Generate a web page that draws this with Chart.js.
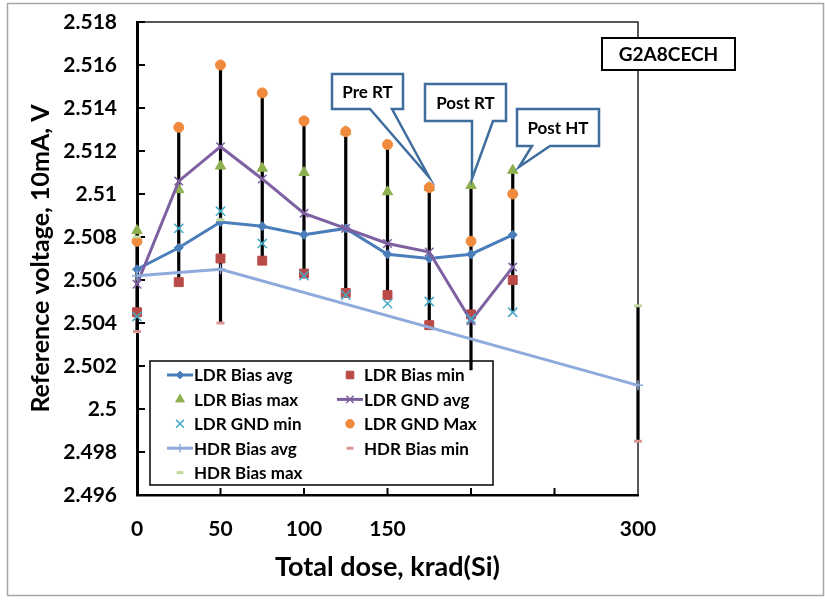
<!DOCTYPE html>
<html>
<head>
<meta charset="utf-8">
<script src="https://cdn.jsdelivr.net/npm/chart.js@4.4.0/dist/chart.umd.min.js"></script>
<style>
  html, body { margin: 0; padding: 0; background: #fff; }
</style>
</head>
<body>
<canvas id="grafico" width="825" height="602"></canvas>
<script>
// ================= DADOS =================
const doseLDR = [0, 25, 50, 75, 100, 125, 150, 175, 200, 225];
const doseHDR = [0, 50, 300];

const ldrBiasAvg = [2.5065, 2.5075, 2.5087, 2.5085, 2.5081, 2.5084, 2.5072, 2.5070, 2.5072, 2.5081];
const ldrBiasMin = [2.5045, 2.5059, 2.5070, 2.5069, 2.5063, 2.5054, 2.5053, 2.5039, 2.5044, 2.5060];
const ldrBiasMax = [2.5083, 2.5102, 2.5113, 2.5112, 2.5110, 2.5129, 2.5101, 2.5103, 2.5104, 2.5111];
const ldrGndMin  = [2.5043, 2.5084, 2.5092, 2.5077, 2.5062, 2.5053, 2.5049, 2.5050, 2.5042, 2.5045];
const ldrGndAvg  = [2.5058, 2.5106, 2.5122, 2.5107, 2.5091, 2.5084, 2.5077, 2.5073, 2.5041, 2.5066];
const ldrGndMax  = [2.5078, 2.5131, 2.5160, 2.5147, 2.5134, 2.5129, 2.5123, 2.5103, 2.5078, 2.5100];
const hdrBiasAvg = [2.5062, 2.5065, 2.5011];
const hdrBiasMin = [2.5036, 2.5040, 2.4985];
const hdrBiasMax = [2.5080, 2.5088, 2.5048];

// barras pretas (faixa total em cada dose)
const faixaDose = [0, 25, 50, 75, 100, 125, 150, 175, 200, 225, 300];
const faixaMin  = [2.5036, 2.5059, 2.5040, 2.5069, 2.5063, 2.5054, 2.5051, 2.5039, 2.5018, 2.5045, 2.4985];
const faixaMax  = [2.5083, 2.5131, 2.5160, 2.5147, 2.5134, 2.5129, 2.5123, 2.5103, 2.5104, 2.5111, 2.5048];

const ticksX = [0, 50, 100, 150, 300];   // rótulos visíveis no eixo X
const rotuloAmostra = "G2A8CECH";

// ================= ESTILO =================
const FONTE = "Lato, 'Open Sans', sans-serif";
Chart.defaults.font.family = FONTE;
Chart.defaults.font.weight = "bold";
Chart.defaults.color = "#000";

function pontos(xs, ys) {
  return xs.map((x, i) => ({ x: x, y: ys[i] }));
}

function serie(label, xs, ys, cor, estilo, raio, linha, extra) {
  return Object.assign({
    label: label,
    data: pontos(xs, ys),
    showLine: linha,
    borderColor: cor,
    borderWidth: linha ? 3 : 0,
    pointStyle: estilo,
    pointRadius: raio,
    pointHoverRadius: raio,
    pointBackgroundColor: cor,
    pointBorderColor: cor,
    pointBorderWidth: 1,
    clip: false
  }, extra || {});
}

const datasets = [
  serie("LDR Bias avg", doseLDR, ldrBiasAvg, "#4A7EBB", "rectRot", 4.5, true),
  serie("LDR Bias min", doseLDR, ldrBiasMin, "#B94A47", "rect", 6.3, false),
  serie("LDR Bias max", doseLDR, ldrBiasMax, "#8FB04E", "triangle", 6, false),
  serie("LDR GND avg", doseLDR, ldrGndAvg, "#7D60A0", "crossRot", 6, true, { pointBorderWidth: 1.5 }),
  serie("LDR GND min", doseLDR, ldrGndMin, "#46AAC5", "crossRot", 6.5, false, { pointBorderWidth: 1.5 }),
  serie("LDR GND Max", doseLDR, ldrGndMax, "#F08A3C", "circle", 5, false),
  serie("HDR Bias avg", doseHDR, hdrBiasAvg, "#8FAADC", "cross", 5, true, { pointBorderWidth: 1.5 }),
  serie("HDR Bias min", doseHDR, hdrBiasMin, "#D99694", "line", 4, false, { pointBorderWidth: 3 }),
  serie("HDR Bias max", doseHDR, hdrBiasMax, "#C3D69B", "line", 4, false, { pointBorderWidth: 3 })
];
// no Excel a última série fica por cima
datasets.forEach((d, i) => { d.order = datasets.length - i; });

// ================= PLUGINS =================
const moldura = {
  id: "moldura",
  beforeDatasetsDraw(chart) {
    const { ctx, chartArea: a, scales } = chart;
    ctx.save();

    // legenda (fica por baixo das barras pretas, como no original)
    const lx = 150, ly = 361, lw = 343, lh = 124;
    ctx.fillStyle = "#fff";
    ctx.fillRect(lx, ly, lw, lh);
    ctx.strokeStyle = "#000";
    ctx.lineWidth = 1.5;
    ctx.strokeRect(lx, ly, lw, lh);
    ctx.font = "bold 17px " + FONTE;
    ctx.textBaseline = "middle";
    ctx.textAlign = "left";
    datasets.forEach((d, i) => {
      const col = i % 2, lin = Math.floor(i / 2);
      const mx = col === 0 ? 180 : 350;
      const my = 375 + lin * 24.4;
      if (d.showLine) {
        ctx.strokeStyle = d.borderColor;
        ctx.lineWidth = 3;
        ctx.beginPath();
        ctx.moveTo(mx - 13, my);
        ctx.lineTo(mx + 13, my);
        ctx.stroke();
      }
      ctx.fillStyle = d.pointBackgroundColor;
      ctx.strokeStyle = d.pointBorderColor;
      ctx.lineWidth = d.pointBorderWidth;
      Chart.helpers.drawPoint(ctx, {
        pointStyle: d.pointStyle,
        radius: d.pointRadius * 0.85,
        rotation: 0,
        borderWidth: d.pointBorderWidth
      }, mx, my);
      ctx.fillStyle = "#000";
      ctx.fillText(d.label, mx + 14, my + 1);
    });

    // caixa do gráfico (topo e direita)
    ctx.strokeStyle = "#222";
    ctx.lineWidth = 1.5;
    ctx.beginPath();
    ctx.moveTo(a.left, a.top);
    ctx.lineTo(a.right, a.top);
    ctx.lineTo(a.right, a.bottom);
    ctx.stroke();

    // marcas internas
    ctx.strokeStyle = "#000";
    ctx.lineWidth = 2;
    ctx.beginPath();
    scales.y.ticks.forEach(t => {
      const y = scales.y.getPixelForValue(t.value);
      ctx.moveTo(a.left, y);
      ctx.lineTo(a.left + 8, y);
    });
    scales.x.ticks.forEach(t => {
      if (t.value <= 0 || t.value >= 300) return;
      const x = scales.x.getPixelForValue(t.value);
      ctx.moveTo(x, a.bottom);
      ctx.lineTo(x, a.bottom - 7);
    });
    ctx.stroke();

    // barras pretas
    ctx.lineWidth = 3.2;
    ctx.beginPath();
    faixaDose.forEach((d, i) => {
      const x = scales.x.getPixelForValue(d);
      ctx.moveTo(x, scales.y.getPixelForValue(faixaMax[i]));
      ctx.lineTo(x, scales.y.getPixelForValue(faixaMin[i]));
    });
    ctx.stroke();
    ctx.restore();
  },
  afterDraw(chart) {
    const { ctx } = chart;
    ctx.save();

    // balões
    const baloes = [
      { txt: "Pre RT",  x: 332, y: 74,  w: 71, h: 35, b1: 370, b2: 392, tx: 429, ty: 177 },
      { txt: "Post RT", x: 425, y: 84,  w: 81, h: 37, b1: 472, b2: 493, tx: 472, ty: 179 },
      { txt: "Post HT", x: 517, y: 109, w: 82, h: 37, b1: 532, b2: 550, tx: 519, ty: 167 }
    ];
    ctx.font = "bold 17px " + FONTE;
    ctx.textAlign = "center";
    ctx.textBaseline = "middle";
    baloes.forEach(b => {
      const base = b.y + b.h;
      ctx.beginPath();
      ctx.moveTo(b.x, b.y);
      ctx.lineTo(b.x + b.w, b.y);
      ctx.lineTo(b.x + b.w, base);
      ctx.lineTo(b.b2, base);
      ctx.lineTo(b.tx, b.ty);
      ctx.lineTo(b.b1, base);
      ctx.lineTo(b.x, base);
      ctx.closePath();
      ctx.fillStyle = "#fff";
      ctx.fill();
      ctx.strokeStyle = "#3F6E9E";
      ctx.lineWidth = 2.5;
      ctx.lineJoin = "miter";
      ctx.stroke();
      ctx.fillStyle = "#000";
      ctx.fillText(b.txt, b.x + b.w / 2, b.y + b.h / 2 + 1);
    });

    // identificação da amostra
    ctx.fillStyle = "#fff";
    ctx.fillRect(602, 38, 133, 32);
    ctx.strokeStyle = "#000";
    ctx.lineWidth = 2;
    ctx.strokeRect(602, 38, 133, 32);
    ctx.fillStyle = "#000";
    ctx.font = "bold 19px " + FONTE;
    ctx.fillText(rotuloAmostra, 668.5, 55);

    // borda externa
    ctx.strokeStyle = "#A6A6A6";
    ctx.lineWidth = 1.5;
    ctx.strokeRect(7.5, 3.5, 816, 592);
    ctx.restore();
  }
};

// ================= GRÁFICO =================
const ctx = document.getElementById("grafico").getContext("2d");
window.grafico = new Chart(ctx, {
  type: "scatter",
  data: { datasets },
  options: {
    responsive: false,
    animation: false,
    events: [],
    layout: { padding: { top: 22, right: 187, bottom: 0, left: 0 } },
    plugins: {
      legend: { display: false },
      tooltip: { enabled: false }
    },
    scales: {
      x: {
        type: "linear",
        min: 0,
        max: 300,
        ticks: {
          stepSize: 50,
          padding: 22,
          font: { size: 21, weight: "bold" },
          color: "#000",
          maxRotation: 0,
          callback: v => ticksX.includes(v) ? String(v) : ""
        },
        grid: { display: true, drawOnChartArea: false, drawTicks: false },
        border: { display: true, color: "#000", width: 2.5 },
        title: {
          display: true,
          text: "Total dose, krad(Si)",
          font: { size: 27, weight: "bold" },
          color: "#000",
          padding: { top: 0, bottom: 19 }
        },
        afterFit: s => { s.height = 107; s.paddingLeft = 0; s.paddingRight = 0; }
      },
      y: {
        type: "linear",
        min: 2.496,
        max: 2.518,
        ticks: {
          stepSize: 0.002,
          padding: 20,
          font: { size: 21, weight: "bold" },
          color: "#000",
          callback: v => String(parseFloat(v.toFixed(3)))
        },
        grid: { display: true, drawOnChartArea: false, drawTicks: false },
        border: { display: true, color: "#000", width: 3 },
        title: {
          display: true,
          text: "Reference voltage, 10mA, V",
          font: { size: 25, weight: "bold" },
          color: "#000",
          padding: { top: 26, bottom: 0 }
        },
        afterFit: s => { s.width = 137; s.paddingTop = 0; s.paddingBottom = 0; }
      }
    }
  },
  plugins: [moldura]
});
</script>
</body>
</html>
